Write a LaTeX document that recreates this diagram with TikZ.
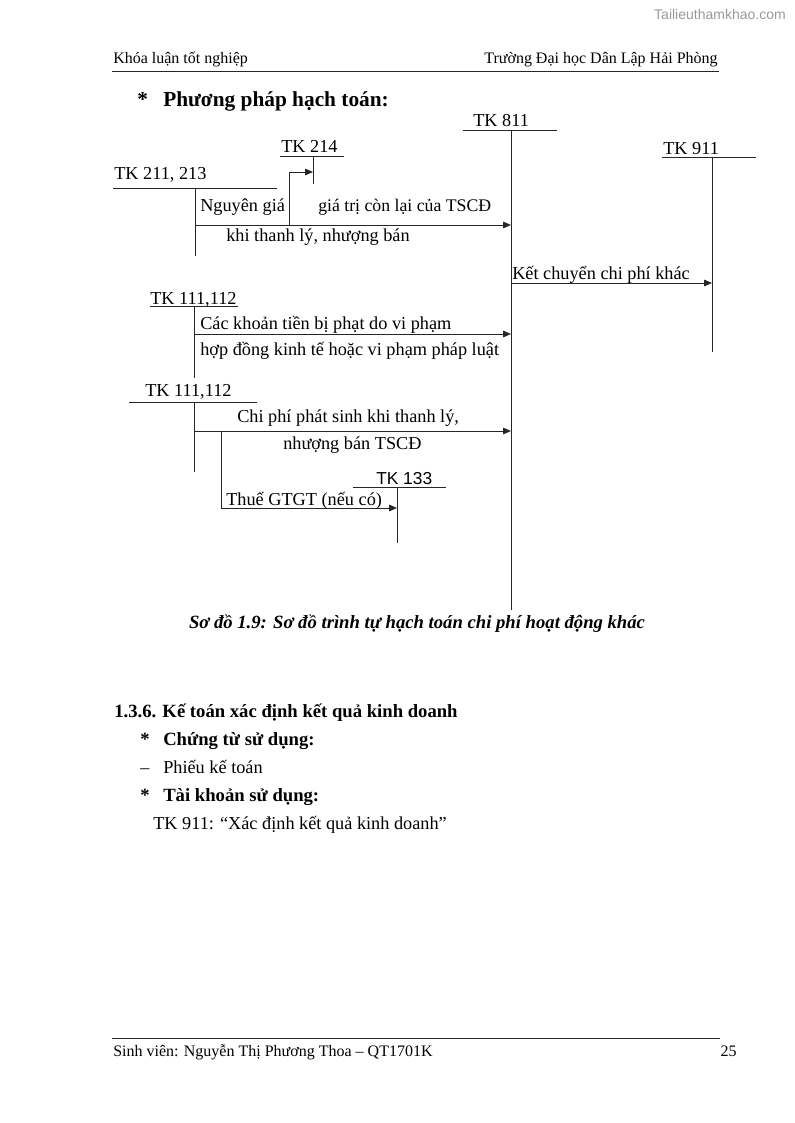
\documentclass[tikz,border=0pt]{standalone}
\usepackage{fontspec}
\setmainfont{Liberation Serif}
\newfontfamily\arialfont{Liberation Sans}
\usetikzlibrary{arrows.meta}

\begin{document}
\begin{tikzpicture}[x=0.75pt, y=-0.75pt,
  >={Triangle[length=6pt,width=5pt]},
  txt/.style={anchor=base west, inner sep=0pt, font=\fontsize{13.7}{16}\selectfont},
  small/.style={anchor=base west, inner sep=0pt, font=\fontsize{12}{14}\selectfont},
  head/.style={txt, font=\fontsize{14}{16}\selectfont\bfseries},
  tline/.style={line width=0.6pt, draw=black!85},
  flow/.style={tline, ->},
]
\useasboundingbox (0,0) rectangle (794,1123);

% page header and watermark
\node[anchor=base east, inner sep=0pt, font=\arialfont\fontsize{10.5}{12}\selectfont, text=black!40] (wm) at (786,20) {Tailieuthamkhao.com};
\node[small] (hleft) at (113,64) {Khóa luận tốt nghiệp};
\node[small, anchor=base east] (hright) at (718,64) {Trường Đại học Dân Lập Hải Phòng};
\draw[tline] (112,71) -- (719,71);

\node[txt, font=\fontsize{16}{18}\selectfont\bfseries] (star0) at (137,107) {*};
\node[txt, font=\fontsize{16}{18}\selectfont\bfseries] (method) at (163,107) {Phương pháp hạch toán:};

% accounts
\node[txt] (t811) at (473,127) {TK 811};
\draw[tline] (463,130) -- (557,130);
\coordinate (v811) at (511,130);
\coordinate (b811) at (511,610);
\draw[tline] (v811) -- (b811);

\node[txt] (t214) at (281,153) {TK 214};
\draw[tline] (280,156) -- (344,156);
\coordinate (v214) at (313,156);
\coordinate (b214) at (313,184);
\draw[tline] (v214) -- (b214);

\node[txt] (t911) at (663,155) {TK 911};
\draw[tline] (662,157) -- (756,157);
\coordinate (v911) at (712,157);
\coordinate (b911) at (712,352);
\draw[tline] (v911) -- (b911);

\node[txt] (t211) at (114,180) {TK 211, 213};
\draw[tline] (113,188) -- (277,188);
\coordinate (v211) at (195,188);
\coordinate (b211) at (195,256);
\draw[tline] (v211) -- (b211);

\node[txt] (t111a) at (150,304) {TK 111,112};
\draw[tline] (150,306) -- (238,306);
\coordinate (v111a) at (194,306);
\coordinate (b111a) at (194,378);
\draw[tline] (v111a) -- (b111a);

\node[txt] (t111b) at (145,396) {TK 111,112};
\draw[tline] (129,402) -- (257,402);
\coordinate (v111b) at (194,402);
\coordinate (b111b) at (194,472);
\draw[tline] (v111b) -- (b111b);

\node[txt, font=\arialfont\fontsize{13}{15}\selectfont] (t133) at (376,484) {TK 133};
\draw[tline] (353,487) -- (446,487);
\coordinate (v133) at (397,487);
\coordinate (b133) at (397,543);
\draw[tline] (v133) -- (b133);

% flows
\coordinate (f211) at (195,225);
\draw[flow] (f211) -- (f211 -| v811);
\coordinate (e214) at (289,225);
\coordinate (k214) at (289,172);
\draw[flow] (e214) -- (k214) -- (k214 -| v214);
\node[txt] (l1) at (200,212) {Nguyên giá};
\node[txt, font=\fontsize{13.3}{16}\selectfont] (l2) at (318,212) {giá trị còn lại của TSCĐ};
\node[txt] (l3) at (226,241) {khi thanh lý, nhượng bán};

\coordinate (f911) at (511,283);
\draw[flow] (f911) -- (f911 -| v911);
\node[txt] (l4) at (512,279) {Kết chuyển chi phí khác};

\coordinate (f111a) at (194,334);
\draw[flow] (f111a) -- (f111a -| v811);
\node[txt] (l5) at (200,329) {Các khoản tiền bị phạt do vi phạm};
\node[txt] (l6) at (200,355) {hợp đồng kinh tế hoặc vi phạm pháp luật};

\coordinate (f111b) at (194,431);
\draw[flow] (f111b) -- (f111b -| v811);
\node[txt] (l7) at (237,422) {Chi phí phát sinh khi thanh lý,};
\node[txt] (l8) at (283,449) {nhượng bán TSCĐ};

\coordinate (s133) at (221,431);
\coordinate (k133) at (221,508);
\draw[flow] (s133) -- (k133) -- (k133 -| v133);
\node[txt] (l9) at (226,505) {Thuế GTGT (nếu có)};

\node[anchor=base, inner sep=0pt, font=\fontsize{14}{16}\selectfont\bfseries\itshape] (cap) at (417,628) {Sơ đồ 1.9: Sơ đồ trình tự hạch toán chi phí hoạt động khác};

% section text
\node[head] (sec) at (114,717) {1.3.6. Kế toán xác định kết quả kinh doanh};
\node[head] (star1) at (140,745) {*};
\node[head] (docs) at (163,745) {Chứng từ sử dụng:};
\node[txt] (dash1) at (140,773) {–};
\node[txt] (doc1) at (163,773) {Phiếu kế toán};
\node[head] (star2) at (140,801) {*};
\node[head] (accs) at (163,801) {Tài khoản sử dụng:};
\node[txt] (acc1) at (153,829) {TK 911: “Xác định kết quả kinh doanh”};

% page footer
\draw[tline] (112,1038) -- (720,1038);
\node[small] (fleft) at (113,1056) {Sinh viên: Nguyễn Thị Phương Thoa – QT1701K};
\node[small, anchor=base east] (fright) at (737,1056) {25};
\end{tikzpicture}
\end{document}
